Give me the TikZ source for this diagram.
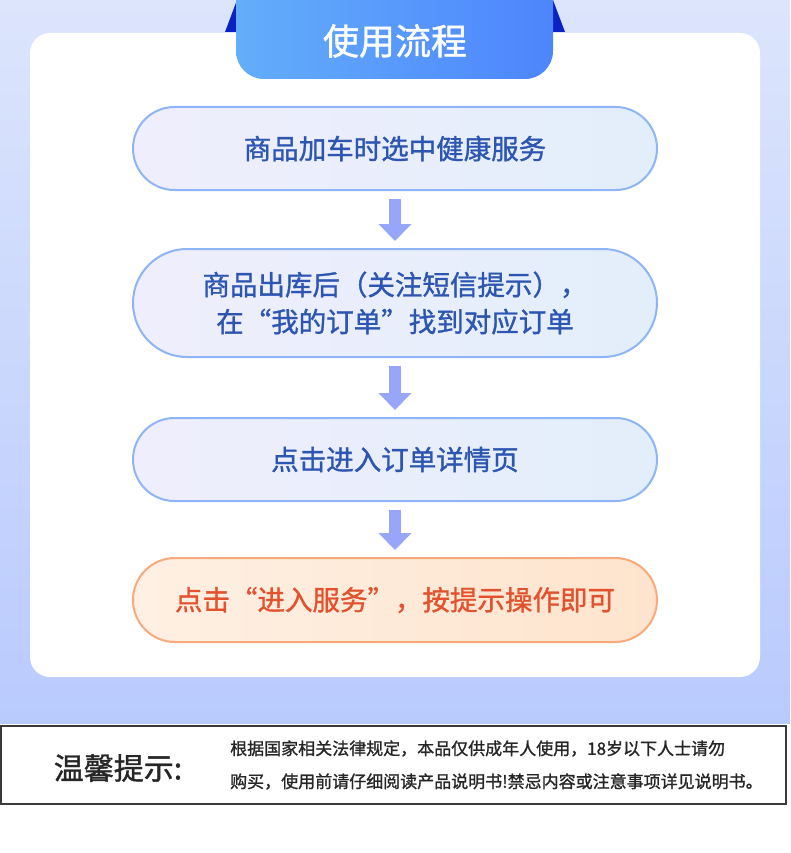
\documentclass[tikz,border=0pt]{standalone}
\usepackage{fontspec}
\setmainfont{Noto Sans CJK SC}
\newfontfamily\medfont[FakeBold=1.2]{Noto Sans CJK SC}
\usepackage{xcolor}
\usepackage{tikz}
\usetikzlibrary{arrows.meta,positioning,shapes.misc}
\definecolor{bgtop}{HTML}{DCE5FC}
\definecolor{bgbottom}{HTML}{B9CAFD}
\definecolor{tableft}{HTML}{63AEFA}
\definecolor{tabright}{HTML}{4D85FD}
\definecolor{earblue}{HTML}{0B22C4}
\definecolor{stepline}{HTML}{8DB5F7}
\definecolor{stepleft}{HTML}{EFEEFC}
\definecolor{stepright}{HTML}{E3EEFB}
\definecolor{steptext}{HTML}{2D55B2}
\definecolor{lastline}{HTML}{F9A97A}
\definecolor{lastleft}{HTML}{FEF0E3}
\definecolor{lastmid}{HTML}{FFFBF1}
\definecolor{lastright}{HTML}{FEE4CD}
\definecolor{lasttext}{HTML}{E3522E}
\definecolor{arrowblue}{HTML}{97A6F9}
\definecolor{noteline}{HTML}{3A3A3A}
\definecolor{notetext}{HTML}{262626}
\tikzset{
  flowbox/.style={rounded rectangle, draw=stepline, line width=2pt, left color=stepleft, right color=stepright, text=steptext, align=center, minimum width=524pt, inner sep=0pt, font=\medfont\fontsize{27.5}{37}\selectfont},
  lastbox/.style={rounded rectangle, draw=lastline, line width=2pt, left color=lastleft, middle color=lastmid, right color=lastright, text=lasttext, align=center, minimum width=524pt, inner sep=0pt, font=\medfont\fontsize{27.5}{37}\selectfont},
  downarrow/.style={draw=arrowblue, line width=12pt, -{Triangle[width=32pt,length=17pt]}, shorten <=8pt, shorten >=7pt},
  notebox/.style={draw=noteline, line width=1.5pt, fill=white}
}

\begin{document}
\begin{tikzpicture}[x=1pt,y=-1pt]
  \useasboundingbox (0,0) rectangle (790,853);
  \fill[white] (0,0) rectangle (790,853);

  % background and card
  \shade[top color=bgtop, bottom color=bgbottom] (0,0) rectangle (790,723);
  \fill[white, rounded corners=20pt] (30,33) rectangle (760,677);

  % title tab
  \fill[earblue] (225,32) -- (237,0) -- (237,32) -- cycle;
  \fill[earblue] (565,32) -- (553,0) -- (553,32) -- cycle;
  \shade[left color=tableft, right color=tabright] (236,0) [rounded corners=28pt] -- (236,79) -- (553,79) [sharp corners] -- (553,0) -- cycle;
  \node[text=white, font=\medfont\fontsize{36}{40}\selectfont] (title) at (395,41) {使用流程};

  % steps
  \node[flowbox, minimum height=83pt] (s1) at (395,148.5) {商品加车时选中健康服务};
  \node[flowbox, minimum height=108pt] (s2) at (395,303) {商品出库后（关注短信提示），\\在“我的订单”找到对应订单};
  \node[flowbox, minimum height=83pt] (s3) at (395,459.5) {点击进入订单详情页};
  \node[lastbox, minimum height=84pt] (s4) at (395,600) {点击“进入服务”，按提示操作即可};

  \draw[downarrow] (s1.south) -- (s2.north);
  \draw[downarrow] (s2.south) -- (s3.north);
  \draw[downarrow] (s3.south) -- (s4.north);

  % notice
  \node[notebox, minimum width=785pt, minimum height=78pt] (note) at (393.5,765) {};
  \node[text=notetext, font=\medfont\fontsize{30}{34}\selectfont] (tiptitle) at (118,768) {温馨提示:};
  \node[text=notetext, anchor=west, align=left, inner sep=0pt, font=\medfont\fontsize{17}{33}\selectfont] (tipbody) at (230,765) {根据国家相关法律规定，本品仅供成年人使用，18岁以下人士请勿\\购买，使用前请仔细阅读产品说明书!禁忌内容或注意事项详见说明书。};
\end{tikzpicture}
\end{document}
